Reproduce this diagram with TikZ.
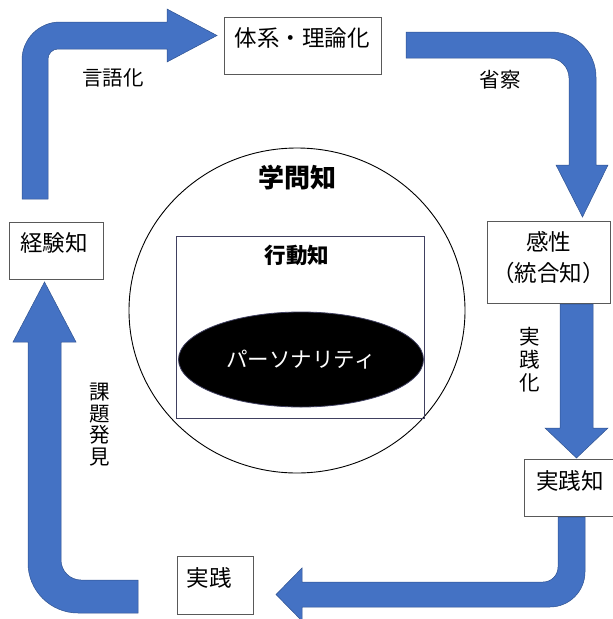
\documentclass[tikz,border=0pt]{standalone}
\usepackage{fontspec}
\usetikzlibrary{shapes.geometric}
\newfontfamily\jp{Noto Sans CJK JP}
\definecolor{arrowblue}{HTML}{4472C4}
\definecolor{arrowedge}{HTML}{2F528F}
\definecolor{boxedge}{HTML}{595959}
\definecolor{navyedge}{HTML}{404060}
\tikzset{
  blockarrow/.style={fill=arrowblue, draw=arrowedge, line width=0.5pt, line join=miter},
  box/.style={draw=boxedge, line width=0.8pt, fill=white, rectangle, inner sep=0pt, anchor=north west},
  boxtext/.style={font=\jp\fontsize{22.5}{31}\selectfont, inner sep=0pt, align=center},
  lbl/.style={font=\jp\fontsize{20.5}{21.7}\selectfont, inner sep=0pt, align=center},
}
\begin{document}
\begin{tikzpicture}[x=1pt,y=-1pt]
\useasboundingbox (0,0) rectangle (613,619);
\clip (0,0) rectangle (613,619);

% central circle, rectangle, ellipse
\node[draw=black, line width=0.9pt, ellipse, minimum width=336pt, minimum height=325pt, inner sep=0pt] (gakumon) at (297,310.5) {};
\node[font=\jp\bfseries\fontsize{26}{30}\selectfont, inner sep=0pt] (gakumont) at (297,178) {学問知};
\node[draw=navyedge, line width=0.8pt, rectangle, minimum width=248pt, minimum height=182pt, inner sep=0pt, anchor=north west] (koudou) at (176,236) {};
\node[font=\jp\bfseries\fontsize{21.5}{25}\selectfont, inner sep=0pt] (koudout) at (297,255) {行動知};
\node[ellipse, fill=black, draw=navyedge, line width=0.8pt, minimum width=245pt, minimum height=95pt, inner sep=0pt, text=white, font=\jp\fontsize{21.5}{25}\selectfont] (person) at (301,359.5) {パーソナリティ};

% boxes
\node[box, minimum width=157pt, minimum height=57pt] (taikei) at (224,17) {};
\node[boxtext] (taikeit) at (302,37.5) {体系・理論化};
\node[box, minimum width=94pt, minimum height=57pt] (keiken) at (9,222) {};
\node[boxtext] (keikent) at (54,243) {経験知};
\node[box, minimum width=123pt, minimum height=82pt] (kansei) at (487,221) {};
\node[boxtext] (kanseit) at (548.5,257.5) {感性\\（統合知）};
\node[box, minimum width=89pt, minimum height=57pt] (jissenchi) at (524,459) {};
\node[boxtext] (jissenchit) at (570,481) {実践知};
\node[box, minimum width=76pt, minimum height=58pt] (jissen) at (177,556) {};
\node[boxtext] (jissent) at (209,578) {実践};

% arrow: 経験知 -> 体系・理論化
\draw[blockarrow] (22,199) -- (22,60) .. controls (22,39) and (39,22) .. (60,22) -- (167,22) -- (167,9) -- (217,35.5) -- (167,62) -- (167,49) -- (58,49) .. controls (52.5,49) and (48,53.5) .. (48,59) -- (48,199) -- cycle;
% arrow: 体系・理論化 -> 感性
\draw[blockarrow] (406,32) -- (551,32) .. controls (575.8,32) and (596,52.2) .. (596,77) -- (596,165) -- (608,165) -- (582.5,217) -- (556,165) -- (569,165) -- (569,78) .. controls (569,67) and (560,58) .. (549,58) -- (406,58) -- cycle;
% arrow: 感性 -> 実践知
\draw[blockarrow] (560,304) -- (593,304) -- (593,428) -- (608,428) -- (576.5,458) -- (545,428) -- (560,428) -- cycle;
% arrow: 実践知 -> 実践
\draw[blockarrow] (558,517) -- (585,517) -- (585,572) .. controls (585,591.3) and (569.3,607) .. (550,607) -- (302,607) -- (302,621) -- (276,594.5) -- (302,568) -- (302,582) -- (543,582) .. controls (551.3,582) and (558,575.3) .. (558,567) -- cycle;
% arrow: 実践 -> 経験知
\draw[blockarrow] (138,613) -- (78,613) .. controls (50.4,613) and (28,590.6) .. (28,563) -- (28,342) -- (13,342) -- (44.5,282) -- (76,342) -- (61,342) -- (61,560) .. controls (61,571) and (70,580) .. (81,580) -- (138,580) -- cycle;

% labels
\node[lbl] (gengo) at (113,78) {言語化};
\node[lbl] (shousatsu) at (500,80) {省察};
\node[lbl, font=\jp\fontsize{20.5}{23}\selectfont] (jissenka) at (530,360) {実\\践\\化};
\node[lbl] (kadai) at (100,424.5) {課\\題\\発\\見};
\end{tikzpicture}
\end{document}
